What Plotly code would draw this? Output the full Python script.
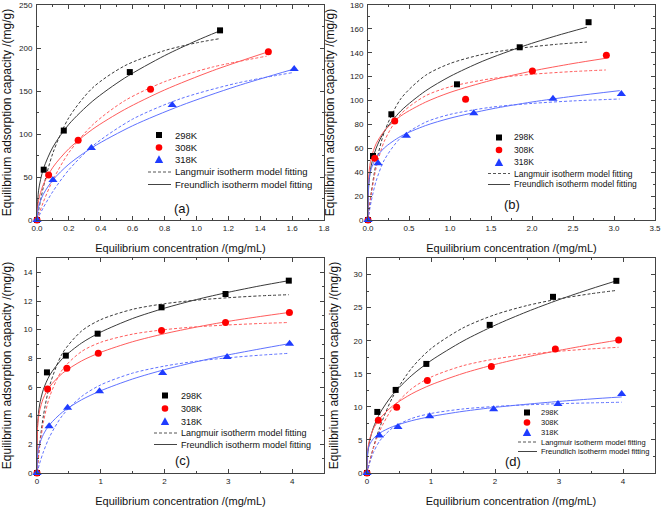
import plotly.graph_objects as go

W, H = 664, 507

# ---------------- data ----------------
temps = ["298K", "308K", "318K"]

# panel (a)
a_x = [[0, 0.042, 0.168, 0.582, 1.148],
       [0, 0.073, 0.258, 0.712, 1.451],
       [0, 0.100, 0.341, 0.848, 1.613]]
a_y = [[0, 58.5, 104.0, 172.0, 220.5],
       [0, 52.3, 92.6, 152.0, 195.7],
       [0, 46.5, 83.7, 133.7, 175.6]]
a_fx = [[0, 0.01, 0.04, 0.1, 0.2, 0.35, 0.55, 0.8, 1.0, 1.14],
        [0, 0.01, 0.04, 0.1, 0.2, 0.35, 0.55, 0.8, 1.1, 1.44],
        [0, 0.01, 0.04, 0.1, 0.2, 0.35, 0.6, 0.9, 1.25, 1.6]]
a_freund = [[0, 34.6, 59.4, 84.9, 111.3, 138.4, 165.1, 191.1, 208.5, 219.4],
            [0, 22.7, 41.3, 61.4, 82.9, 105.7, 128.5, 151.2, 173.5, 195.0],
            [0, 15.5, 30.1, 46.6, 64.9, 84.7, 109.6, 132.9, 155.5, 174.9]]
a_lang = [[0, 10.8, 38.3, 78.0, 119.1, 153.9, 179.3, 197.0, 206.0, 210.7],
          [0, 5.6, 21.0, 46.6, 78.4, 110.8, 138.7, 160.8, 177.8, 190.5],
          [0, 3.8, 14.5, 33.3, 58.4, 86.2, 117.3, 141.0, 159.0, 171.3]]

# panel (b)
b_x = [[0, 0.061, 0.285, 1.085, 1.85, 2.69],
       [0, 0.082, 0.326, 1.19, 2.005, 2.907],
       [0, 0.122, 0.468, 1.29, 2.256, 3.09]]
b_y = [[0, 53.6, 88.5, 113.6, 144.6, 165.6],
       [0, 51.7, 82.9, 101.0, 124.8, 137.9],
       [0, 47.5, 70.6, 89.3, 101.6, 105.5]]
b_fx = [[0, 0.01, 0.04, 0.1, 0.2, 0.4, 0.7, 1.0, 1.4, 1.9, 2.3, 2.67],
        [0, 0.01, 0.04, 0.1, 0.2, 0.4, 0.7, 1.0, 1.5, 2.0, 2.5, 2.9],
        [0, 0.01, 0.04, 0.1, 0.2, 0.4, 0.7, 1.0, 1.5, 2.0, 2.5, 3.07]]
b_freund = [[0, 30.2, 45.8, 60.2, 74.2, 91.3, 108.0, 120.2, 133.0, 145.7, 154.3, 161.4],
            [0, 38.2, 52.1, 63.9, 74.6, 87.1, 98.6, 106.8, 116.9, 124.7, 131.0, 135.4],
            [0, 31.9, 42.9, 52.1, 60.4, 70.1, 79.0, 85.2, 92.9, 98.8, 103.6, 108.3]]
b_lang = [[0, 6.5, 23.2, 47.8, 73.8, 101.5, 121.0, 131.0, 138.7, 144.2, 147.1, 149.0],
          [0, 6.2, 21.8, 43.8, 66.1, 88.7, 103.9, 111.5, 118.3, 122.0, 124.3, 125.6],
          [0, 4.5, 16.0, 32.8, 50.4, 68.9, 81.8, 88.4, 94.4, 97.6, 99.7, 101.3]]

# panel (c)
c_x = [[0, 0.156, 0.452, 0.951, 1.953, 2.956, 3.948],
       [0, 0.166, 0.468, 0.961, 1.953, 2.956, 3.958],
       [0, 0.190, 0.480, 0.980, 1.970, 2.980, 3.960]]
c_y = [[0, 7.02, 8.19, 9.72, 11.56, 12.49, 13.42],
       [0, 5.86, 7.30, 8.35, 9.95, 10.50, 11.20],
       [0, 3.26, 4.56, 5.70, 6.98, 8.10, 9.02]]
c_fx = [0, 0.01, 0.04, 0.1, 0.2, 0.4, 0.7, 1.0, 1.5, 2.0, 2.5, 3.0, 3.5, 3.95]
c_freund = [[0, 3.46, 4.74, 5.83, 6.83, 7.99, 9.07, 9.83, 10.78, 11.50, 12.10, 12.61, 13.06, 13.42],
            [0, 3.24, 4.32, 5.22, 6.03, 6.96, 7.82, 8.42, 9.16, 9.72, 10.18, 10.58, 10.92, 11.20],
            [0, 1.26, 1.99, 2.69, 3.38, 4.25, 5.11, 5.74, 6.56, 7.21, 7.76, 8.24, 8.66, 9.02]]
c_lang = [[0, 0.55, 1.95, 3.99, 6.12, 8.36, 9.91, 10.70, 11.42, 11.81, 12.06, 12.23, 12.36, 12.44],
          [0, 0.49, 1.75, 3.53, 5.35, 7.22, 8.48, 9.12, 9.69, 10.00, 10.20, 10.33, 10.43, 10.50],
          [0, 0.17, 0.65, 1.47, 2.55, 4.02, 5.34, 6.15, 6.97, 7.46, 7.80, 8.04, 8.22, 8.35]]

# panel (d)
d_x = [[0, 0.161, 0.448, 0.927, 1.917, 2.906, 3.896],
       [0, 0.177, 0.464, 0.943, 1.943, 2.943, 3.932],
       [0, 0.193, 0.484, 0.979, 1.979, 2.984, 3.979]]
d_y = [[0, 9.23, 12.56, 16.49, 22.39, 26.63, 29.05],
       [0, 7.97, 9.93, 13.97, 16.09, 18.76, 20.12],
       [0, 5.65, 6.96, 8.57, 9.63, 10.44, 11.95]]
d_fx = [[0, 0.01, 0.04, 0.1, 0.2, 0.4, 0.7, 1.0, 1.5, 2.0, 2.5, 3.0, 3.5, 3.9],
        [0, 0.01, 0.04, 0.1, 0.2, 0.4, 0.7, 1.0, 1.5, 2.0, 2.5, 3.0, 3.5, 3.93],
        [0, 0.01, 0.04, 0.1, 0.2, 0.4, 0.7, 1.0, 1.5, 2.0, 2.5, 3.0, 3.5, 3.98]]
d_freund = [[0, 2.76, 4.78, 6.85, 9.01, 11.84, 14.76, 16.99, 19.94, 22.33, 24.38, 26.20, 27.84, 29.06],
            [0, 3.35, 5.07, 6.68, 8.22, 10.13, 11.98, 13.33, 15.05, 16.41, 17.55, 18.53, 19.41, 20.10],
            [0, 3.17, 4.27, 5.20, 6.04, 7.01, 7.91, 8.54, 9.32, 9.92, 10.40, 10.82, 11.19, 11.50]]
d_lang = [[0, 0.43, 1.66, 3.87, 6.92, 11.44, 15.88, 18.80, 21.93, 23.93, 25.31, 26.32, 27.10, 27.60],
          [0, 0.45, 1.68, 3.76, 6.39, 9.82, 12.76, 14.50, 16.22, 17.24, 17.91, 18.40, 18.76, 19.00],
          [0, 0.41, 1.48, 3.09, 4.87, 6.82, 8.25, 9.00, 9.68, 10.06, 10.31, 10.48, 10.60, 10.70]]

panel_labels = ["(a)", "(b)", "(c)", "(d)"]
legend_texts = ["298K", "308K", "318K",
                "Langmuir isotherm model fitting", "Freundlich isotherm model fitting"]
x_title = "Equilibrium concentration /(mg/mL)"
y_title = "Equilibrium adsorption capacity /(mg/g)"

# ---------------- styles ----------------
mk_colors = ["#000000", "#ff0000", "#1f3cff"]
ln_colors = ["#3a3a3a", "#ff5c5c", "#5f72ff"]
symbols = ["square", "circle", "triangle-up"]
msizes = [6, 7, 8]
DASH = "3px,2px"

def px(xp):
    return xp / W

def py(yp):
    return 1 - yp / H

panels = [
    dict(xs=a_x, ys=a_y, fx=a_fx, fr=a_freund, la=a_lang,
         dom_x=(37, 324), dom_y=(5, 220), xr=[0, 1.8], xd=0.2, xm=0.1, xf=".1f",
         yr=[0, 250], yd=50, ym=25, label=(182, 208)),
    dict(xs=b_x, ys=b_y, fx=b_fx, fr=b_freund, la=b_lang,
         dom_x=(368, 655), dom_y=(5, 220), xr=[0, 3.5], xd=0.5, xm=0.25, xf=".1f",
         yr=[0, 180], yd=20, ym=10, label=(512, 204)),
    dict(xs=c_x, ys=c_y, fx=[c_fx] * 3, fr=c_freund, la=c_lang,
         dom_x=(37, 324), dom_y=(258, 473), xr=[0, 4.5], xd=1, xm=0.5, xf="d",
         yr=[0, 15], yd=2, ym=1, label=(182, 460)),
    dict(xs=d_x, ys=d_y, fx=d_fx, fr=d_freund, la=d_lang,
         dom_x=(367, 655), dom_y=(258, 473), xr=[0, 4.5], xd=1, xm=0.5, xf="d",
         yr=[0, 32.5], yd=5, ym=2.5, label=(513, 461)),
]

legends = [
    dict(mx=159, l0=148, l1=171, tx=173, rows=[135, 147.5, 159.5, 172, 184.5], fs=9.5),
    dict(mx=499, l0=488, l1=510, tx=512, rows=[137.5, 150, 162.5, 173.5, 184.5], fs=8.5),
    dict(mx=165, l0=154, l1=177, tx=179, rows=[395.5, 408.5, 421.5, 433, 444.5], fs=9),
    dict(mx=527, l0=518, l1=537, tx=539, rows=[412.5, 422.5, 432.5, 442, 451.5], fs=7.5),
]

fig = go.Figure()
layout = dict(width=W, height=H, margin=dict(l=0, r=0, t=0, b=0, autoexpand=False),
              paper_bgcolor="white", plot_bgcolor="white", showlegend=False,
              font=dict(family="Liberation Sans, Arial, sans-serif", color="#111"))
annotations = []
shapes = []

for i, p in enumerate(panels):
    n = i + 1
    xa = "x" if n == 1 else f"x{n}"
    ya = "y" if n == 1 else f"y{n}"
    # fitted curves
    for k in range(3):
        fig.add_trace(go.Scatter(x=p["fx"][k], y=p["la"][k], mode="lines", xaxis=xa, yaxis=ya,
                                 line=dict(color=ln_colors[k], width=1, dash=DASH, shape="spline",
                                           smoothing=0.8),
                                 name=f"{temps[k]} Langmuir", hoverinfo="skip"))
        fig.add_trace(go.Scatter(x=p["fx"][k], y=p["fr"][k], mode="lines", xaxis=xa, yaxis=ya,
                                 line=dict(color=ln_colors[k], width=1, shape="spline",
                                           smoothing=0.8),
                                 name=f"{temps[k]} Freundlich", hoverinfo="skip"))
    # data points
    for k in range(3):
        fig.add_trace(go.Scatter(x=p["xs"][k], y=p["ys"][k], mode="markers", xaxis=xa, yaxis=ya,
                                 marker=dict(symbol=symbols[k], size=msizes[k], color=mk_colors[k],
                                             line=dict(width=0)),
                                 name=temps[k], cliponaxis=False))
    axcommon = dict(showline=True, linecolor="#444", linewidth=1, mirror="allticks",
                    ticks="inside", ticklen=4, tickcolor="#444", tickwidth=1, automargin=False,
                    showgrid=False, zeroline=False, ticklabeloverflow="allow",
                    tickfont=dict(size=8, color="#222"))
    xkey = "xaxis" if n == 1 else f"xaxis{n}"
    ykey = "yaxis" if n == 1 else f"yaxis{n}"
    layout[xkey] = dict(axcommon, domain=[px(p["dom_x"][0]), px(p["dom_x"][1])],
                        range=p["xr"], dtick=p["xd"], tick0=0, tickformat=p["xf"],
                        anchor=ya,
                        minor=dict(dtick=p["xm"], ticks="inside", ticklen=2, tickcolor="#444"),
                        title=dict(text=x_title, font=dict(size=11), standoff=12))
    layout[ykey] = dict(axcommon, domain=[py(p["dom_y"][1]), py(p["dom_y"][0])],
                        range=p["yr"], dtick=p["yd"], tick0=0, anchor=xa,
                        ticklabelstandoff=2,
                        minor=dict(dtick=p["ym"], ticks="inside", ticklen=2, tickcolor="#444"),
                        title=dict(text=y_title, font=dict(size=12), standoff=12))
    annotations.append(dict(text=panel_labels[i], x=px(p["label"][0]), y=py(p["label"][1]),
                            xref="paper", yref="paper", showarrow=False,
                            font=dict(size=13, color="#111"), xanchor="center", yanchor="middle"))

    # legend box (drawn as layout items)
    lg = legends[i]
    for k in range(3):
        ycen = py(lg["rows"][k])
        xcen = px(lg["mx"])
        s = 3 if k == 0 else 3.3
        if k == 0:
            shapes.append(dict(type="rect", xref="paper", yref="paper",
                               xsizemode="pixel", ysizemode="pixel", xanchor=xcen, yanchor=ycen,
                               x0=-s, x1=s, y0=-s, y1=s, fillcolor=mk_colors[0], line=dict(width=0)))
        elif k == 1:
            shapes.append(dict(type="circle", xref="paper", yref="paper",
                               xsizemode="pixel", ysizemode="pixel", xanchor=xcen, yanchor=ycen,
                               x0=-s, x1=s, y0=-s, y1=s, fillcolor=mk_colors[1], line=dict(width=0)))
        else:
            shapes.append(dict(type="path", xref="paper", yref="paper",
                               xsizemode="pixel", ysizemode="pixel", xanchor=xcen, yanchor=ycen,
                               path="M -4.2 -3.4 L 4.2 -3.4 L 0 4.2 Z",
                               fillcolor=mk_colors[2], line=dict(width=0)))
    for j, dash in ((3, DASH), (4, "solid")):
        yv = py(lg["rows"][j])
        shapes.append(dict(type="line", xref="paper", yref="paper",
                           x0=px(lg["l0"]), x1=px(lg["l1"]), y0=yv, y1=yv,
                           line=dict(color="#555" if j == 3 else "#444", width=1, dash=dash)))
    for j in range(5):
        annotations.append(dict(text=legend_texts[j], x=px(lg["tx"]), y=py(lg["rows"][j]),
                                xref="paper", yref="paper", showarrow=False,
                                xanchor="left", yanchor="middle",
                                font=dict(size=lg["fs"], color="#111")))

layout["annotations"] = annotations
layout["shapes"] = shapes
fig.update_layout(**layout)
fig.write_html("out.html", config={"displayModeBar": False},
               post_script="document.body.style.margin='0px';document.body.style.overflow='hidden';")
